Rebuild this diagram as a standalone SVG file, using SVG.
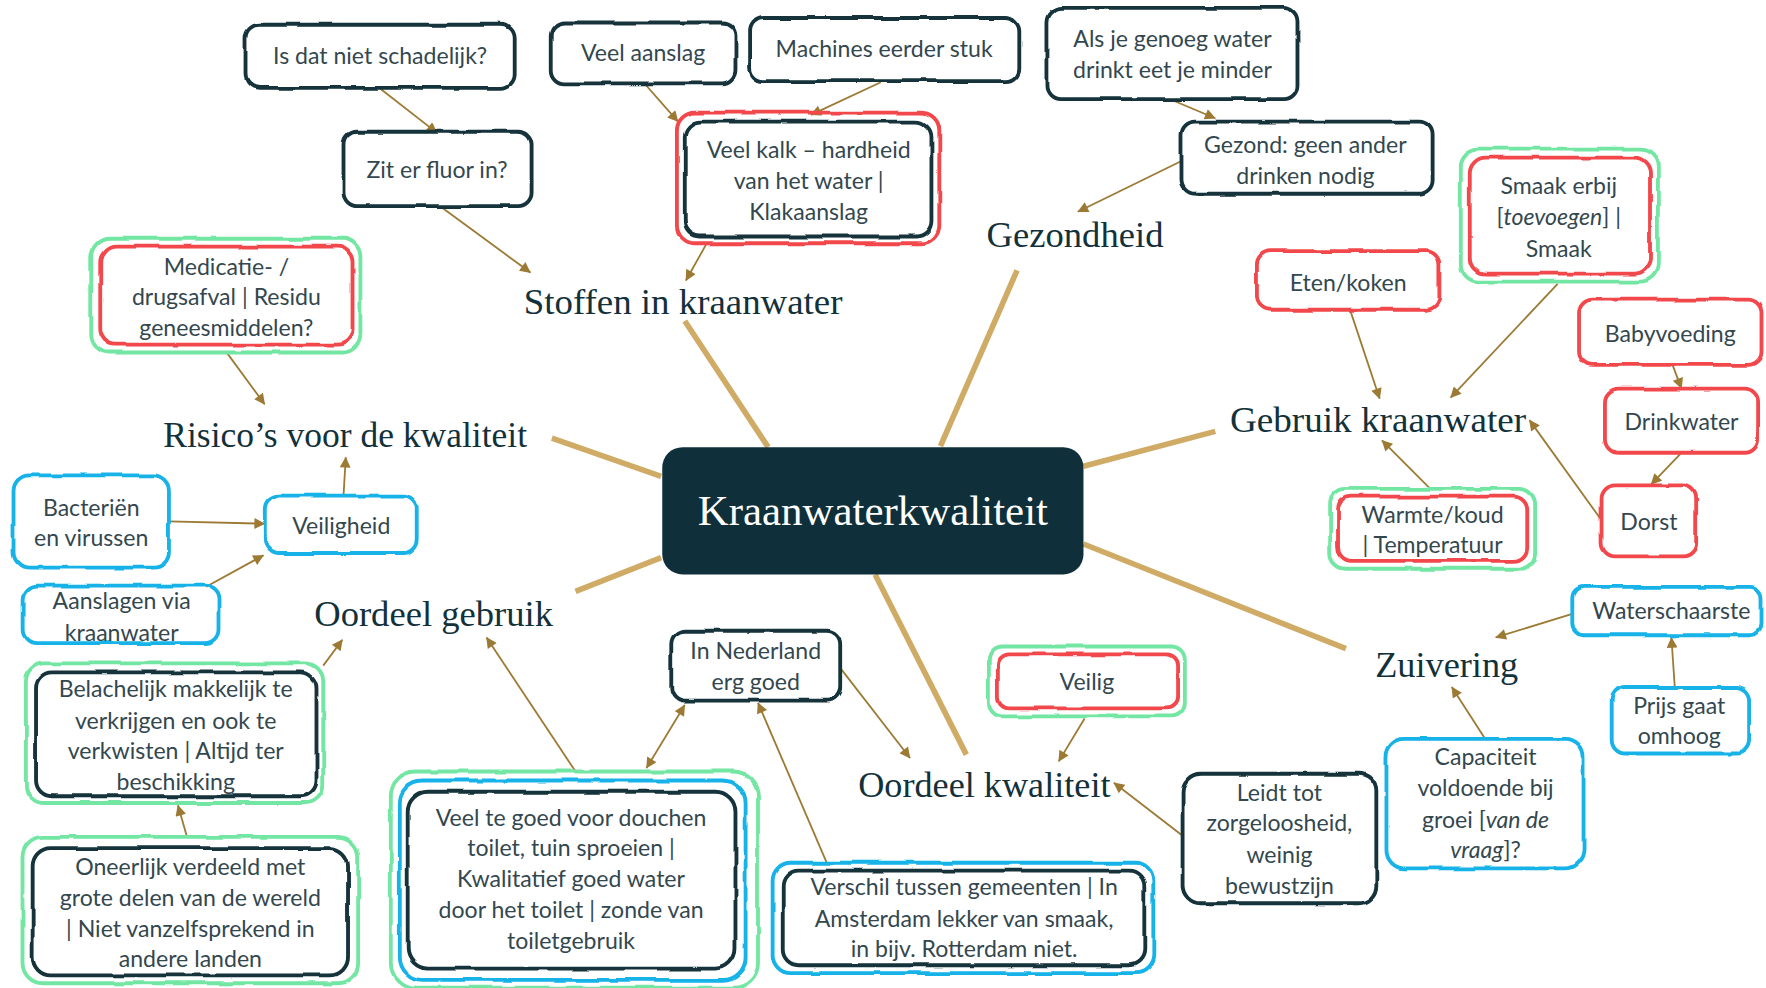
<svg xmlns="http://www.w3.org/2000/svg" width="1766" height="988" viewBox="0 0 1766 988">
<defs>
<style>
.b{fill:none;stroke-width:3.4;filter:url(#rough)}
.dk{stroke:#12313a}.rd{stroke:#f2474b}.gr{stroke:#72e6a2}.bl{stroke:#16b2e8}
.t{font-family:Lato,"Open Sans","DejaVu Sans",sans-serif;font-size:20.5px;fill:#33474f;text-anchor:middle}
.h{font-family:"Liberation Serif","Times New Roman",serif;font-size:32px;fill:#12313a;text-anchor:middle}
.sp{stroke:#cfab66;stroke-width:5;fill:none}
.ar{stroke:#9c7a34;stroke-width:1.6;fill:none;marker-end:url(#ah)}
.i{font-style:italic}
</style>
<filter id="rough" x="-20%" y="-20%" width="140%" height="140%">
<feTurbulence type="fractalNoise" baseFrequency="0.035" numOctaves="2" seed="4" result="n"/>
<feDisplacementMap in="SourceGraphic" in2="n" scale="3.5" xChannelSelector="R" yChannelSelector="G"/>
</filter>
<marker id="ah" viewBox="0 0 10 10" refX="9.5" refY="5" markerWidth="7" markerHeight="6" orient="auto-start-reverse">
<path d="M0,0 L10,5 L0,10 Z" fill="#9c7a34"/>
</marker>
</defs>
<rect width="1766" height="988" fill="#fff"/>
<g transform="scale(1.12628)">
<g id="spokes">
<line class="sp" x1="682" y1="397" x2="608" y2="285"/>
<line class="sp" x1="835" y1="396" x2="903" y2="240"/>
<line class="sp" x1="962" y1="414" x2="1079" y2="383"/>
<line class="sp" x1="587" y1="423" x2="490" y2="389"/>
<line class="sp" x1="587" y1="495" x2="511" y2="525"/>
<line class="sp" x1="777" y1="510" x2="858" y2="670"/>
<line class="sp" x1="962" y1="483" x2="1195" y2="576"/>
</g>
<g id="connectors">
<line class="ar" x1="338" y1="79" x2="388" y2="118"/>
<line class="ar" x1="392" y1="184" x2="471" y2="242"/>
<line class="ar" x1="573" y1="75" x2="602" y2="108"/>
<line class="ar" x1="782" y1="73" x2="720" y2="102"/>
<line class="ar" x1="627" y1="217" x2="609" y2="249"/>
<line class="ar" x1="1041" y1="89" x2="1079" y2="105"/>
<line class="ar" x1="1049" y1="143" x2="957" y2="188"/>
<line class="ar" x1="202" y1="314" x2="235" y2="359"/>
<line class="ar" x1="305" y1="440" x2="307" y2="406"/>
<line class="ar" x1="150" y1="463" x2="235" y2="465"/>
<line class="ar" x1="183" y1="521" x2="234" y2="493"/>
<line class="ar" x1="287" y1="591" x2="304" y2="568"/>
<line class="ar" x1="166" y1="743" x2="158" y2="715"/>
<line class="ar" x1="511" y1="685" x2="432" y2="566"/>
<line class="ar" x1="574" y1="682" x2="608" y2="626" marker-start="url(#ah)"/>
<line class="ar" x1="734" y1="766" x2="673" y2="624"/>
<line class="ar" x1="746" y1="593" x2="808" y2="673"/>
<line class="ar" x1="963" y1="638" x2="940" y2="676"/>
<line class="ar" x1="1050" y1="742" x2="989" y2="695"/>
<line class="ar" x1="1199" y1="276" x2="1225" y2="354"/>
<line class="ar" x1="1383" y1="252" x2="1288" y2="353"/>
<line class="ar" x1="1485" y1="324" x2="1493" y2="345"/>
<line class="ar" x1="1492" y1="403" x2="1466" y2="430"/>
<line class="ar" x1="1422" y1="462" x2="1358" y2="373"/>
<line class="ar" x1="1270" y1="434" x2="1227" y2="391"/>
<line class="ar" x1="1396" y1="545" x2="1328" y2="566"/>
<line class="ar" x1="1487" y1="610" x2="1484" y2="566"/>
<line class="ar" x1="1318" y1="655" x2="1289" y2="610"/>
</g>
<g id="center">
<rect x="588" y="397" width="374" height="113" rx="18" fill="#0f303b"/>
<text x="775" y="466" class="h" style="font-size:38px;fill:#fff" textLength="311" lengthAdjust="spacingAndGlyphs">Kraanwaterkwaliteit</text>
</g>
<g id="cat-stoffen"><text x="606.5" y="279" class="h" textLength="283" lengthAdjust="spacingAndGlyphs">Stoffen in kraanwater</text></g>
<g id="cat-gezondheid"><text x="954.5" y="219" class="h" textLength="157" lengthAdjust="spacingAndGlyphs">Gezondheid</text></g>
<g id="cat-gebruik"><text x="1223.5" y="384" class="h" textLength="263" lengthAdjust="spacingAndGlyphs">Gebruik kraanwater</text></g>
<g id="cat-risico"><text x="306.5" y="397" class="h" textLength="323" lengthAdjust="spacingAndGlyphs">Risico’s voor de kwaliteit</text></g>
<g id="cat-oordeel-gebruik"><text x="385" y="556" class="h" textLength="212" lengthAdjust="spacingAndGlyphs">Oordeel gebruik</text></g>
<g id="cat-oordeel-kwaliteit"><text x="874" y="708" class="h" textLength="224" lengthAdjust="spacingAndGlyphs">Oordeel kwaliteit</text></g>
<g id="cat-zuivering"><text x="1284.5" y="601" class="h" textLength="127" lengthAdjust="spacingAndGlyphs">Zuivering</text></g>

<g id="n-schadelijk"><rect class="b dk" x="218" y="22" width="239" height="56" rx="12"/><text class="t" x="337.5" y="57">Is dat niet schadelijk?</text></g>
<g id="n-fluor"><rect class="b dk" x="305" y="117" width="167" height="66" rx="12"/><text class="t" x="388" y="158">Zit er fluor in?</text></g>
<g id="n-medicatie"><rect class="b gr" x="81" y="212" width="239" height="101" rx="16"/><rect class="b rd" x="89" y="219" width="224" height="87" rx="14"/>
<text class="t" x="201" y="244">Medicatie- /</text><text class="t" x="201" y="271">drugsafval | Residu</text><text class="t" x="201" y="298">geneesmiddelen?</text></g>
<g id="n-aanslag"><rect class="b dk" x="489" y="20" width="164" height="54" rx="12"/><text class="t" x="571" y="54">Veel aanslag</text></g>
<g id="n-machines"><rect class="b dk" x="666" y="16" width="239" height="56" rx="12"/><text class="t" x="785" y="51">Machines eerder stuk</text></g>
<g id="n-kalk"><rect class="b rd" x="601" y="100" width="233" height="116" rx="16"/><rect class="b dk" x="608" y="108" width="219" height="102" rx="14"/>
<text class="t" x="718" y="140">Veel kalk – hardheid</text><text class="t" x="718" y="168">van het water |</text><text class="t" x="718" y="195">Klakaanslag</text></g>
<g id="n-genoeg"><rect class="b dk" x="930" y="7" width="222" height="81" rx="12"/>
<text class="t" x="1041" y="42">Als je genoeg water</text><text class="t" x="1041" y="69">drinkt eet je minder</text></g>
<g id="n-gezond"><rect class="b dk" x="1049" y="108" width="223" height="64" rx="12"/>
<text class="t" x="1159" y="136">Gezond: geen ander</text><text class="t" x="1159" y="163">drinken nodig</text></g>
<g id="n-smaak"><rect class="b gr" x="1297" y="132" width="175" height="118" rx="16"/><rect class="b rd" x="1305" y="140" width="160" height="103" rx="14"/>
<text class="t" x="1384" y="172">Smaak erbij</text><text class="t" x="1384" y="200">[<tspan class="i">toevoegen</tspan>] |</text><text class="t" x="1384" y="228">Smaak</text></g>
<g id="n-eten"><rect class="b rd" x="1116" y="223" width="162" height="52" rx="12"/><text class="t" x="1197" y="258">Eten/koken</text></g>
<g id="n-baby"><rect class="b rd" x="1402" y="266" width="162" height="58" rx="12"/><text class="t" x="1483" y="304">Babyvoeding</text></g>
<g id="n-drinkwater"><rect class="b rd" x="1425" y="345" width="136" height="57" rx="12"/><text class="t" x="1493" y="382">Drinkwater</text></g>
<g id="n-dorst"><rect class="b rd" x="1422" y="431" width="84" height="63" rx="12"/><text class="t" x="1464" y="471">Dorst</text></g>
<g id="n-warmte"><rect class="b gr" x="1181" y="434" width="182" height="71" rx="14"/><rect class="b rd" x="1188" y="441" width="168" height="57" rx="12"/>
<text class="t" x="1272" y="464">Warmte/koud</text><text class="t" x="1272" y="491">| Temperatuur</text></g>
<g id="n-bacterien"><rect class="b bl" x="12" y="422" width="138" height="82" rx="14"/>
<text class="t" x="81" y="458">Bacteriën</text><text class="t" x="81" y="485">en virussen</text></g>
<g id="n-veiligheid"><rect class="b bl" x="236" y="440" width="134" height="51" rx="12"/><text class="t" x="303" y="474">Veiligheid</text></g>
<g id="n-aanslagen"><rect class="b bl" x="21" y="520" width="173" height="51" rx="12"/>
<text class="t" x="108" y="541">Aanslagen via</text><text class="t" x="108" y="569">kraanwater</text></g>
<g id="n-belachelijk"><rect class="b gr" x="23" y="589" width="264" height="124" rx="16"/><rect class="b dk" x="32" y="597" width="249" height="110" rx="14"/>
<text class="t" x="156" y="619">Belachelijk makkelijk te</text><text class="t" x="156" y="647">verkrijgen en ook te</text><text class="t" x="156" y="674">verkwisten | Altijd ter</text><text class="t" x="156" y="701">beschikking</text></g>
<g id="n-oneerlijk"><rect class="b gr" x="20" y="743" width="298" height="130" rx="18"/><rect class="b dk" x="29" y="753" width="280" height="113" rx="16"/>
<text class="t" x="169" y="777">Oneerlijk verdeeld met</text><text class="t" x="169" y="804">grote delen van de wereld</text><text class="t" x="169" y="832">| Niet vanzelfsprekend in</text><text class="t" x="169" y="859">andere landen</text></g>
<g id="n-douchen"><rect class="b gr" x="347" y="685" width="326" height="192" rx="22"/><rect class="b bl" x="355" y="693" width="307" height="177" rx="20"/><rect class="b dk" x="362" y="703" width="291" height="157" rx="18"/>
<text class="t" x="507" y="733">Veel te goed voor douchen</text><text class="t" x="507" y="760">toilet, tuin sproeien |</text><text class="t" x="507" y="788">Kwalitatief goed water</text><text class="t" x="507" y="815">door het toilet | zonde van</text><text class="t" x="507" y="843">toiletgebruik</text></g>
<g id="n-nederland"><rect class="b dk" x="596" y="560" width="150" height="62" rx="12"/>
<text class="t" x="671" y="585">In Nederland</text><text class="t" x="671" y="613">erg goed</text></g>
<g id="n-verschil"><rect class="b bl" x="686" y="766" width="338" height="98" rx="16"/><rect class="b dk" x="695" y="773" width="321" height="84" rx="14"/>
<text class="t" x="856" y="795">Verschil tussen gemeenten | In</text><text class="t" x="856" y="823">Amsterdam lekker van smaak,</text><text class="t" x="856" y="850">in bijv. Rotterdam niet.</text></g>
<g id="n-veilig"><rect class="b gr" x="878" y="574" width="174" height="62" rx="12"/><rect class="b rd" x="886" y="581" width="160" height="48" rx="10"/><text class="t" x="965" y="613">Veilig</text></g>
<g id="n-leidt"><rect class="b dk" x="1050" y="687" width="172" height="115" rx="16"/>
<text class="t" x="1136" y="711">Leidt tot</text><text class="t" x="1136" y="738">zorgeloosheid,</text><text class="t" x="1136" y="766">weinig</text><text class="t" x="1136" y="794">bewustzijn</text></g>
<g id="n-capaciteit"><rect class="b bl" x="1231" y="656" width="175" height="115" rx="16"/>
<text class="t" x="1319" y="679">Capaciteit</text><text class="t" x="1319" y="707">voldoende bij</text><text class="t" x="1319" y="735">groei [<tspan class="i">van de</tspan></text><text class="t" x="1319" y="762"><tspan class="i">vraag</tspan>]?</text></g>
<g id="n-waterschaarste"><rect class="b bl" x="1396" y="521" width="168" height="43" rx="10"/><text class="t" x="1484" y="550">Waterschaarste</text></g>
<g id="n-prijs"><rect class="b bl" x="1431" y="610" width="122" height="59" rx="12"/>
<text class="t" x="1491" y="634">Prijs gaat</text><text class="t" x="1491" y="661">omhoog</text></g>
</g>
</svg>
